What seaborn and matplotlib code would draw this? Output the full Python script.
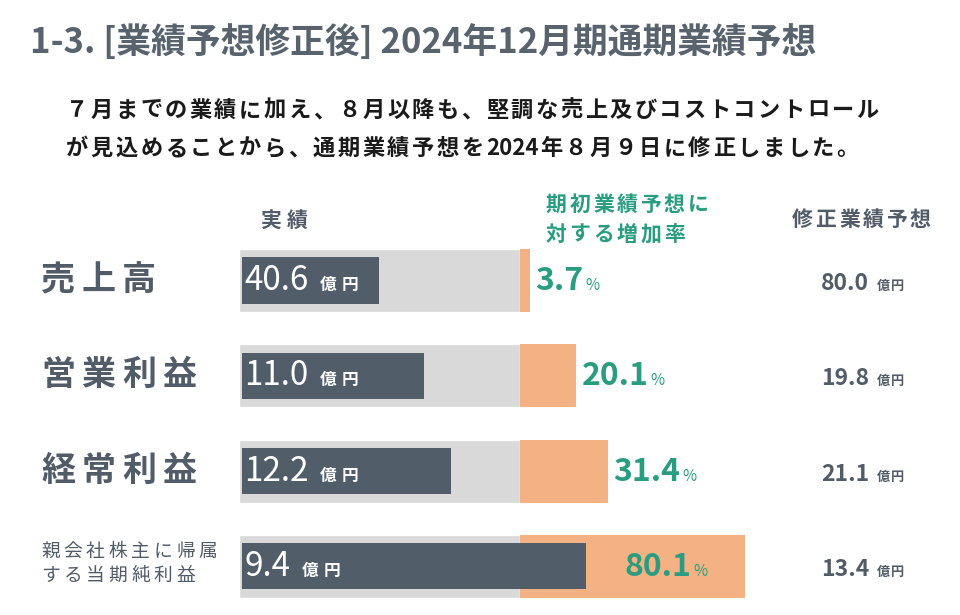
import numpy as np
import pandas as pd
import matplotlib
matplotlib.use('Agg')
import matplotlib.pyplot as plt
import matplotlib.transforms as mtransforms
import seaborn as sns

# ---- data ----
title = '1-3. [業績予想修正後] 2024年12月期通期業績予想'
subtitle = ['７月までの業績に加え、８月以降も、堅調な売上及びコストコントロール',
            'が見込めることから、通期業績予想を2024年８月９日に修正しました。']
categories = ['売上高', '営業利益', '経常利益', '親会社株主に帰属\nする当期純利益']
actual = [40.6, 11.0, 12.2, 9.4]              # 億円, 7月までの実績
increase_rate = [3.7, 20.1, 31.4, 80.1]       # % vs 期初業績予想
revised = [80.0, 19.8, 21.1, 13.4]            # 億円, 修正業績予想
initial_base = [100, 100, 100, 100]           # 期初予想 = 100%
progress = [49.8, 65.8, 75.4, 123.5]          # actual bar length, % of initial forecast

DARK = '#525d6a'
GRAY = '#d9d9d9'
ORANGE = '#f4b183'
GREEN = '#2a9d81'
TEXT = '#525c68'
TITLE_C = '#59636d'

W, H = 960, 615
sns.set_theme(style='white')
plt.rcParams['font.family'] = ['Noto Sans CJK JP', 'DejaVu Sans']

fig = plt.figure(figsize=(W / 100, H / 100), dpi=100)
ax = fig.add_axes([0, 0, 1, 1])
renderer = fig.canvas.get_renderer()

# pixel transform: x from left, y from top
px = mtransforms.Affine2D().scale(1 / W, -1 / H).translate(0, 1) + fig.transFigure


def put(x, y, s, size, color, weight='normal', pitch=None):
    """Draw text with baseline at (x, y) px. CJK glyphs are set on a fixed pitch
    to imitate the letter spacing of the slide. Returns right edge in px."""
    kw = dict(transform=px, fontsize=size, color=color, fontweight=weight,
              ha='left', va='baseline')
    if pitch is None:
        t = fig.text(x, y, s, **kw)
        return t.get_window_extent(renderer).x1
    cur = x
    run = ''
    for ch in s + '\0':
        if ch != '\0' and ord(ch) < 0x2E80:
            run += ch
            continue
        if run:
            t = fig.text(cur, y, run, **kw)
            cur = t.get_window_extent(renderer).x1 + (pitch - size * 100 / 72) * 0.6
            run = ''
        if ch == '\0':
            break
        fig.text(cur, y, ch, **kw)
        cur += pitch
    return cur


# ---- bars (x unit = % of initial forecast) ----
sc = 2.81                     # px per unit
x0 = 239                      # px of 0%
row_pitch = 95.3
row0 = 280.5
ax.set_xlim(-x0 / sc, (W - x0) / sc)

df = pd.DataFrame({'category': categories, 'base': initial_base})
sns.barplot(data=df, x='base', y='category', orient='h', color=GRAY,
            saturation=1, width=0.661, errorbar=None, ax=ax)
ypos = np.arange(len(categories))
ax.barh(ypos, increase_rate, left=100, height=0.661, color=ORANGE, linewidth=0)
ax.barh(ypos, np.array(progress) - 0.9, left=0.9, height=0.483, color=DARK, linewidth=0)
ax.set_ylim((H - row0) / row_pitch, -row0 / row_pitch)
ax.axis('off')


def to_px(xv, yv):
    dx, dy = ax.transData.transform((xv, yv))
    return dx, H - dy


# ---- titles ----
put(30, 53, title, 25, TITLE_C, 'bold')
put(66, 117, subtitle[0], 16, '#1a1a1a', 'bold', pitch=24.7)
put(66, 155, subtitle[1], 16, '#1a1a1a', 'bold', pitch=24.7)

# ---- column headers ----
put(260, 227, '実績', 15, TEXT, 'bold', pitch=27)
put(546, 211, '期初業績予想に', 15, GREEN, 'bold', pitch=23.6)
put(546, 241, '対する増加率', 15, GREEN, 'bold', pitch=23.6)
put(792, 226, '修正業績予想', 15, TEXT, 'bold', pitch=23.5)

# ---- rows ----
for i, cat in enumerate(categories):
    _, yc = to_px(0, i)
    base = yc + 9.5
    if '\n' in cat:
        l1, l2 = cat.split('\n')
        put(41, yc - 9.5, l1, 13.5, TEXT, 'normal', pitch=22.5)
        put(41, yc + 14.5, l2, 13.5, TEXT, 'normal', pitch=22.5)
    else:
        put(41, base, cat, 24.5, TEXT, 'bold', pitch=40.5)

    # actual value inside dark bar
    xa, _ = to_px(0.9, i)
    e = put(xa + 3, base, f'{actual[i]:.1f}', 24, 'white', 'normal')
    put(e + 11, base, '億円', 12, 'white', 'bold', pitch=22)

    # increase rate
    xe, _ = to_px(100 + increase_rate[i], i)
    xd, _ = to_px(progress[i], i)
    x100, _ = to_px(100, i)
    label = f'{increase_rate[i]:.1f}'
    if xd > x100 and xe - xd > 100:
        # dark bar runs into the orange: centre the rate in the orange part left over
        t = fig.text((xd + xe) / 2, base, label + '  ', transform=px, fontsize=23,
                     fontweight='bold', color=GREEN, ha='center', va='baseline')
        bb = t.get_window_extent(renderer)
        t.remove()
        e = put(bb.x0, base, label, 23, GREEN, 'bold')
    else:
        e = put(xe + 5, base, label, 23, GREEN, 'bold')
    put(e + 2, base, '%', 11, GREEN, 'normal')

    # revised forecast
    e = put(821, base, f'{revised[i]:.1f}', 16.5, TEXT, 'bold')
    put(e + 8, base, '億円', 9.5, TEXT, 'bold', pitch=14)

fig.savefig('out.png', dpi=100)
